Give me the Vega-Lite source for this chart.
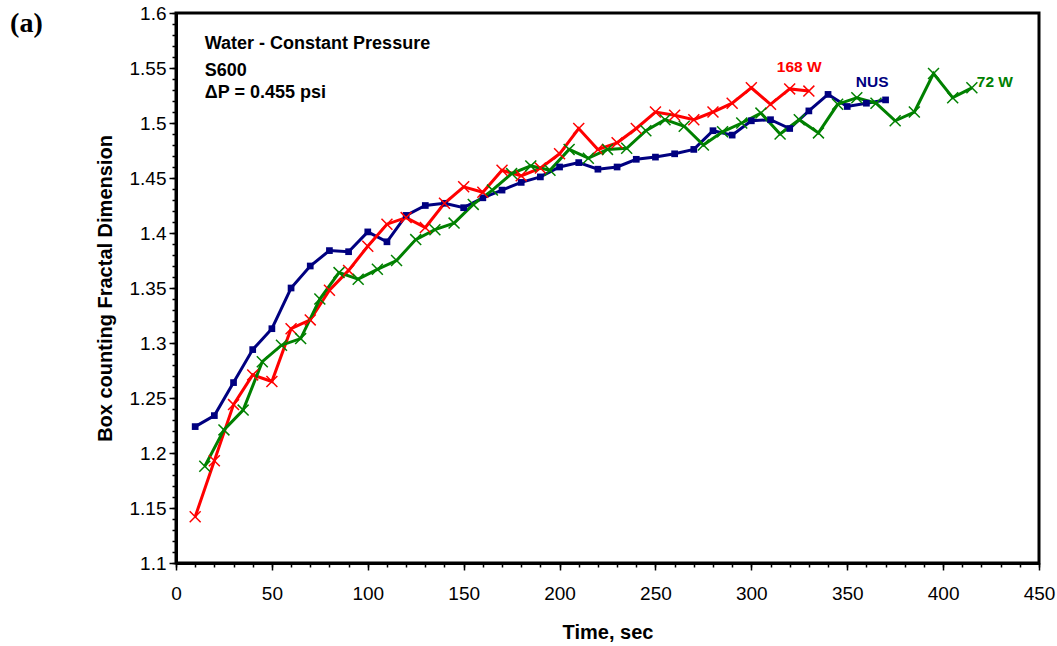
{
  "$schema": "https://vega.github.io/schema/vega-lite/v6.json",
  "autosize": "none",
  "padding": {"left": 176, "top": 13, "right": 18, "bottom": 83},
  "width": 863,
  "height": 550,
  "background": "white",
  "config": {
    "font": "Liberation Sans",
    "view": {"stroke": "black", "strokeWidth": 3},
    "axis": {
      "grid": false,
      "domainColor": "black",
      "domainWidth": 3,
      "tickColor": "black",
      "tickWidth": 1.5,
      "labelColor": "black",
      "labelFont": "Liberation Sans",
      "labelFontSize": 19,
      "titleColor": "black",
      "titleFont": "Liberation Sans",
      "titleFontSize": 20,
      "titleFontWeight": "bold",
      "labelOverlap": false,
      "labelFlush": false
    }
  },
  "resolve": {"axis": {"x": "independent", "y": "independent"}},
  "datasets": {
    "main": [
      {"series": "NUS", "t": 10, "d": 1.224}, {"series": "NUS", "t": 20, "d": 1.234}, {"series": "NUS", "t": 30, "d": 1.264},
      {"series": "NUS", "t": 40, "d": 1.294}, {"series": "NUS", "t": 50, "d": 1.313}, {"series": "NUS", "t": 60, "d": 1.350},
      {"series": "NUS", "t": 70, "d": 1.370}, {"series": "NUS", "t": 80, "d": 1.384}, {"series": "NUS", "t": 90, "d": 1.383},
      {"series": "NUS", "t": 100, "d": 1.401}, {"series": "NUS", "t": 110, "d": 1.392}, {"series": "NUS", "t": 120, "d": 1.416},
      {"series": "NUS", "t": 130, "d": 1.425}, {"series": "NUS", "t": 140, "d": 1.427}, {"series": "NUS", "t": 150, "d": 1.423},
      {"series": "NUS", "t": 160, "d": 1.432}, {"series": "NUS", "t": 170, "d": 1.439}, {"series": "NUS", "t": 180, "d": 1.446},
      {"series": "NUS", "t": 190, "d": 1.451}, {"series": "NUS", "t": 200, "d": 1.460}, {"series": "NUS", "t": 210, "d": 1.464},
      {"series": "NUS", "t": 220, "d": 1.458}, {"series": "NUS", "t": 230, "d": 1.460}, {"series": "NUS", "t": 240, "d": 1.467},
      {"series": "NUS", "t": 250, "d": 1.469}, {"series": "NUS", "t": 260, "d": 1.472}, {"series": "NUS", "t": 270, "d": 1.476},
      {"series": "NUS", "t": 280, "d": 1.493}, {"series": "NUS", "t": 290, "d": 1.489}, {"series": "NUS", "t": 300, "d": 1.502},
      {"series": "NUS", "t": 310, "d": 1.503}, {"series": "NUS", "t": 320, "d": 1.495}, {"series": "NUS", "t": 330, "d": 1.511},
      {"series": "NUS", "t": 340, "d": 1.526}, {"series": "NUS", "t": 350, "d": 1.515}, {"series": "NUS", "t": 360, "d": 1.518},
      {"series": "NUS", "t": 370, "d": 1.521},
      {"series": "168 W", "t": 10, "d": 1.142}, {"series": "168 W", "t": 20, "d": 1.193}, {"series": "168 W", "t": 30, "d": 1.244},
      {"series": "168 W", "t": 40, "d": 1.271}, {"series": "168 W", "t": 50, "d": 1.265}, {"series": "168 W", "t": 60, "d": 1.313},
      {"series": "168 W", "t": 70, "d": 1.321}, {"series": "168 W", "t": 80, "d": 1.348}, {"series": "168 W", "t": 90, "d": 1.366},
      {"series": "168 W", "t": 100, "d": 1.388}, {"series": "168 W", "t": 110, "d": 1.408}, {"series": "168 W", "t": 120, "d": 1.414},
      {"series": "168 W", "t": 130, "d": 1.405}, {"series": "168 W", "t": 140, "d": 1.427}, {"series": "168 W", "t": 150, "d": 1.442},
      {"series": "168 W", "t": 160, "d": 1.437}, {"series": "168 W", "t": 170, "d": 1.457}, {"series": "168 W", "t": 180, "d": 1.452},
      {"series": "168 W", "t": 190, "d": 1.459}, {"series": "168 W", "t": 200, "d": 1.472}, {"series": "168 W", "t": 210, "d": 1.495},
      {"series": "168 W", "t": 220, "d": 1.476}, {"series": "168 W", "t": 230, "d": 1.482}, {"series": "168 W", "t": 240, "d": 1.495},
      {"series": "168 W", "t": 250, "d": 1.510}, {"series": "168 W", "t": 260, "d": 1.507}, {"series": "168 W", "t": 270, "d": 1.503},
      {"series": "168 W", "t": 280, "d": 1.510}, {"series": "168 W", "t": 290, "d": 1.518}, {"series": "168 W", "t": 300, "d": 1.532},
      {"series": "168 W", "t": 310, "d": 1.517}, {"series": "168 W", "t": 320, "d": 1.531}, {"series": "168 W", "t": 330, "d": 1.529},
      {"series": "72 W", "t": 15, "d": 1.188}, {"series": "72 W", "t": 25, "d": 1.221}, {"series": "72 W", "t": 35, "d": 1.239},
      {"series": "72 W", "t": 45, "d": 1.283}, {"series": "72 W", "t": 55, "d": 1.298}, {"series": "72 W", "t": 65, "d": 1.304},
      {"series": "72 W", "t": 75, "d": 1.340}, {"series": "72 W", "t": 85, "d": 1.364}, {"series": "72 W", "t": 95, "d": 1.358},
      {"series": "72 W", "t": 105, "d": 1.367}, {"series": "72 W", "t": 115, "d": 1.375}, {"series": "72 W", "t": 125, "d": 1.394},
      {"series": "72 W", "t": 135, "d": 1.403}, {"series": "72 W", "t": 145, "d": 1.409}, {"series": "72 W", "t": 155, "d": 1.426},
      {"series": "72 W", "t": 165, "d": 1.439}, {"series": "72 W", "t": 175, "d": 1.454}, {"series": "72 W", "t": 185, "d": 1.461},
      {"series": "72 W", "t": 195, "d": 1.457}, {"series": "72 W", "t": 205, "d": 1.476}, {"series": "72 W", "t": 215, "d": 1.468},
      {"series": "72 W", "t": 225, "d": 1.476}, {"series": "72 W", "t": 235, "d": 1.477}, {"series": "72 W", "t": 245, "d": 1.493},
      {"series": "72 W", "t": 255, "d": 1.503}, {"series": "72 W", "t": 265, "d": 1.497}, {"series": "72 W", "t": 275, "d": 1.480},
      {"series": "72 W", "t": 285, "d": 1.492}, {"series": "72 W", "t": 295, "d": 1.500}, {"series": "72 W", "t": 305, "d": 1.509},
      {"series": "72 W", "t": 315, "d": 1.490}, {"series": "72 W", "t": 325, "d": 1.503}, {"series": "72 W", "t": 335, "d": 1.491},
      {"series": "72 W", "t": 345, "d": 1.517}, {"series": "72 W", "t": 355, "d": 1.523}, {"series": "72 W", "t": 365, "d": 1.518},
      {"series": "72 W", "t": 375, "d": 1.502}, {"series": "72 W", "t": 385, "d": 1.510}, {"series": "72 W", "t": 395, "d": 1.545},
      {"series": "72 W", "t": 405, "d": 1.523}, {"series": "72 W", "t": 415, "d": 1.532}
    ],
    "labels": [
      {"series": "168 W", "t": 325, "d": 1.551, "label": "168 W"},
      {"series": "NUS", "t": 363, "d": 1.537, "label": "NUS"},
      {"series": "72 W", "t": 427, "d": 1.537, "label": "72 W"}
    ],
    "notes": [
      {"t": 15, "d": 1.5715, "note": "Water - Constant Pressure"},
      {"t": 15, "d": 1.5475, "note": "S600"},
      {"t": 15, "d": 1.527, "note": "ΔP = 0.455 psi"}
    ],
    "panel": [
      {"t": -78, "d": 1.590, "tag": "(a)"}
    ]
  },
  "layer": [
    {
      "data": {"name": "main"},
      "mark": {"type": "line", "strokeWidth": 3},
      "encoding": {
        "x": {
          "field": "t", "type": "quantitative", "title": "Time, sec",
          "scale": {"domain": [0, 450], "nice": false, "zero": false},
          "axis": {
            "orient": "bottom",
            "values": [0, 50, 100, 150, 200, 250, 300, 350, 400, 450],
            "tickSize": 7,
            "labelPadding": 14,
            "titlePadding": 19
          }
        },
        "y": {
          "field": "d", "type": "quantitative", "title": "Box counting Fractal Dimension",
          "scale": {"domain": [1.1, 1.6], "nice": false, "zero": false},
          "axis": {
            "orient": "left",
            "values": [1.1, 1.15, 1.2, 1.25, 1.3, 1.35, 1.4, 1.45, 1.5, 1.55, 1.6],
            "labelExpr": "toString(datum.value)",
            "tickSize": 7,
            "labelPadding": 3,
            "titlePadding": 14
          }
        },
        "color": {
          "field": "series", "type": "nominal",
          "scale": {"domain": ["168 W", "NUS", "72 W"], "range": ["#FF0000", "#000080", "#008000"]},
          "legend": null
        },
        "order": {"field": "t", "type": "quantitative"}
      }
    },
    {
      "data": {"name": "main"},
      "transform": [{"filter": "datum.series === 'NUS'"}],
      "mark": {"type": "point", "shape": "square", "filled": true, "size": 45, "opacity": 1},
      "encoding": {
        "x": {
          "field": "t", "type": "quantitative",
          "axis": {
            "orient": "bottom",
            "values": [0,10,20,30,40,50,60,70,80,90,100,110,120,130,140,150,160,170,180,190,200,210,220,230,240,250,260,270,280,290,300,310,320,330,340,350,360,370,380,390,400,410,420,430,440,450],
            "labels": false,
            "domain": false,
            "tickSize": 4,
            "title": null
          }
        },
        "y": {
          "field": "d", "type": "quantitative",
          "axis": {
            "orient": "left",
            "values": [1.1,1.11,1.12,1.13,1.14,1.15,1.16,1.17,1.18,1.19,1.2,1.21,1.22,1.23,1.24,1.25,1.26,1.27,1.28,1.29,1.3,1.31,1.32,1.33,1.34,1.35,1.36,1.37,1.38,1.39,1.4,1.41,1.42,1.43,1.44,1.45,1.46,1.47,1.48,1.49,1.5,1.51,1.52,1.53,1.54,1.55,1.56,1.57,1.58,1.59,1.6],
            "labels": false,
            "domain": false,
            "tickSize": 4,
            "title": null
          }
        },
        "color": {"field": "series", "type": "nominal", "legend": null}
      }
    },
    {
      "data": {"name": "main"},
      "transform": [{"filter": "datum.series !== 'NUS'"}],
      "mark": {"type": "point", "shape": "M-1,-1L1,1M-1,1L1,-1", "filled": false, "size": 120, "strokeWidth": 1.5, "opacity": 1},
      "encoding": {
        "x": {"field": "t", "type": "quantitative", "axis": null},
        "y": {"field": "d", "type": "quantitative", "axis": null},
        "color": {"field": "series", "type": "nominal", "legend": null}
      }
    },
    {
      "data": {"name": "labels"},
      "mark": {"type": "text", "fontSize": 15.5, "fontWeight": "bold", "align": "center", "baseline": "middle"},
      "encoding": {
        "x": {"field": "t", "type": "quantitative", "axis": null},
        "y": {"field": "d", "type": "quantitative", "axis": null},
        "text": {"field": "label"},
        "color": {"field": "series", "type": "nominal", "legend": null}
      }
    },
    {
      "data": {"name": "notes"},
      "mark": {"type": "text", "fontSize": 18, "fontWeight": "bold", "align": "left", "baseline": "middle", "color": "black"},
      "encoding": {
        "x": {"field": "t", "type": "quantitative", "axis": null},
        "y": {"field": "d", "type": "quantitative", "axis": null},
        "text": {"field": "note"}
      }
    },
    {
      "data": {"name": "panel"},
      "mark": {"type": "text", "font": "Liberation Serif", "fontSize": 28, "fontWeight": "bold", "align": "center", "baseline": "middle", "color": "black"},
      "encoding": {
        "x": {"field": "t", "type": "quantitative", "axis": null},
        "y": {"field": "d", "type": "quantitative", "axis": null},
        "text": {"field": "tag"}
      }
    }
  ]
}
